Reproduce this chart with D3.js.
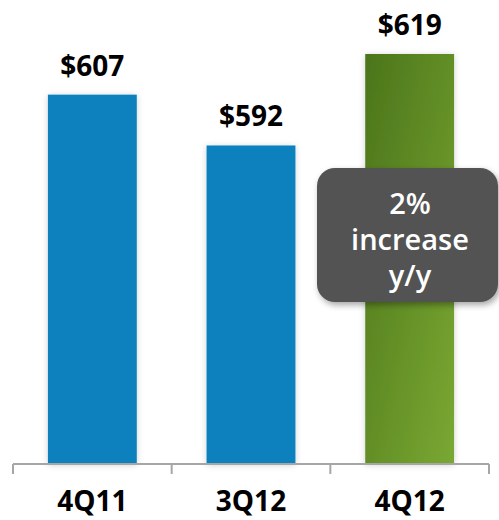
<!DOCTYPE html>
<html>
<head>
<meta charset="utf-8">
<script src="https://cdn.jsdelivr.net/npm/d3@7"></script>
<style>
  body { margin: 0; background: #fff; }
  .canvas { width: 499px; height: 520px; }
  text { font-family: "Open Sans", "Noto Sans", sans-serif; }
</style>
</head>
<body>
<div class="canvas"></div>
<script>
// data
const quarters = ['4Q11', '3Q12', '4Q12'];
const revenue = [607, 592, 619];
const valueLabels = ['$607', '$592', '$619'];
const calloutLines = ['2%', 'increase', 'y/y'];

const W = 499, H = 520;
const axisY = 464;

const svg = d3.select('.canvas')
  .append('svg')
  .attr('width', W)
  .attr('height', H);

const defs = svg.append('defs');

// green gradient for the latest quarter
const grad = defs.append('linearGradient')
  .attr('id', 'green')
  .attr('x1', 0).attr('y1', 0)
  .attr('x2', 1).attr('y2', 1);
grad.append('stop').attr('offset', '0%').attr('stop-color', '#4b751b');
grad.append('stop').attr('offset', '100%').attr('stop-color', '#7aa832');

// soft shadow for bars
const barShadow = defs.append('filter')
  .attr('id', 'barShadow')
  .attr('x', '-20%').attr('y', '-20%')
  .attr('width', '140%').attr('height', '140%');
barShadow.append('feDropShadow')
  .attr('dx', 0).attr('dy', 1)
  .attr('stdDeviation', 3)
  .attr('flood-color', '#000')
  .attr('flood-opacity', 0.18);

// shadow for the callout
const boxShadow = defs.append('filter')
  .attr('id', 'boxShadow')
  .attr('x', '-20%').attr('y', '-20%')
  .attr('width', '140%').attr('height', '140%');
boxShadow.append('feDropShadow')
  .attr('dx', 2).attr('dy', 3)
  .attr('stdDeviation', 3)
  .attr('flood-color', '#000')
  .attr('flood-opacity', 0.35);

const x = d3.scaleBand()
  .domain(quarters)
  .range([13, 489])
  .paddingInner(0.44)
  .paddingOuter(0.22);

const y = d3.scaleLinear()
  .domain([498, 619])
  .range([axisY, 54]);

const rows = quarters.map((q, i) => ({ q: q, v: revenue[i], label: valueLabels[i] }));

//bars
svg.append('g')
  .selectAll('rect')
  .data(rows)
  .enter()
  .append('rect')
  .attr('x', d => x(d.q))
  .attr('y', d => y(d.v))
  .attr('width', x.bandwidth())
  .attr('height', d => axisY - y(d.v))
  .attr('fill', (d, i) => i === rows.length - 1 ? 'url(#green)' : '#0880be')
  .attr('filter', 'url(#barShadow)');

//value labels
svg.append('g')
  .selectAll('text')
  .data(rows)
  .enter()
  .append('text')
  .attr('x', d => x(d.q) + x.bandwidth() / 2)
  .attr('y', d => y(d.v) - 19)
  .attr('text-anchor', 'middle')
  .style('font-size', '28px')
  .style('font-weight', 700)
  .style('fill', '#000')
  .text(d => d.label);

//axis line + ticks at band boundaries
const axis = svg.append('g').attr('class', 'axis');
const r0 = x.range()[0];
axis.append('line')
  .attr('x1', x.range()[0]).attr('x2', x.range()[1])
  .attr('y1', axisY).attr('y2', axisY)
  .attr('stroke', '#a6a6a6').attr('stroke-width', 2);
axis.selectAll('.tick')
  .data(d3.range(quarters.length + 1))
  .enter()
  .append('line')
  .attr('class', 'tick')
  .attr('x1', i => r0 + i * x.step())
  .attr('x2', i => r0 + i * x.step())
  .attr('y1', axisY).attr('y2', axisY + 10)
  .attr('stroke', '#a6a6a6').attr('stroke-width', 2);

axis.selectAll('.cat')
  .data(quarters)
  .enter()
  .append('text')
  .attr('class', 'cat')
  .attr('x', d => x(d) + x.bandwidth() / 2)
  .attr('y', 511)
  .attr('text-anchor', 'middle')
  .style('font-size', '28px')
  .style('font-weight', 700)
  .style('fill', '#000')
  .text(d => d);

//callout
const callout = svg.append('g').attr('transform', 'translate(317,168)');
callout.append('rect')
  .attr('width', 181)
  .attr('height', 134)
  .attr('rx', 18)
  .attr('fill', '#525252')
  .attr('filter', 'url(#boxShadow)');
callout.selectAll('text')
  .data(calloutLines)
  .enter()
  .append('text')
  .attr('x', 93)
  .attr('y', (d, i) => 46 + i * 36)
  .attr('text-anchor', 'middle')
  .style('font-size', '29px')
  .style('font-weight', 600)
  .style('fill', '#fff')
  .text(d => d);
</script>
</body>
</html>
